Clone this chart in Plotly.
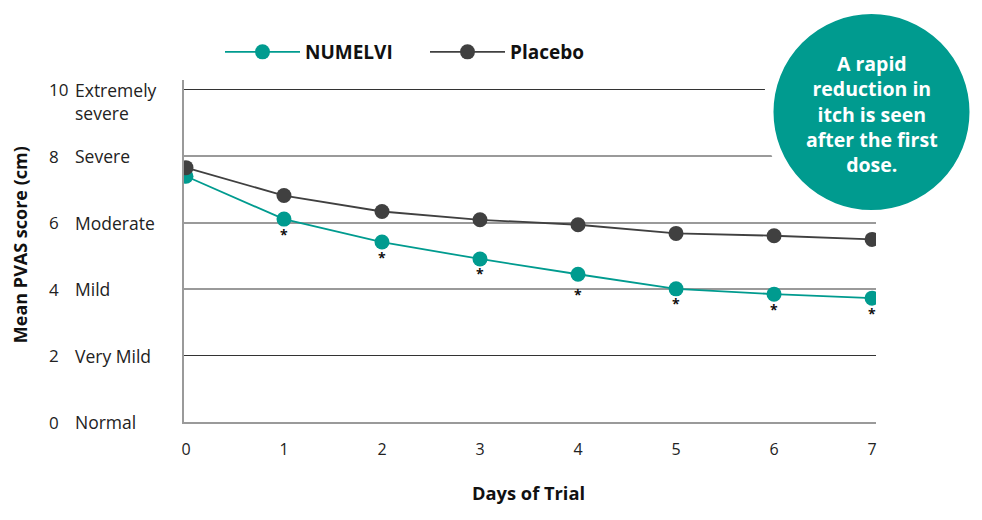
import plotly.graph_objects as go

days = [0, 1, 2, 3, 4, 5, 6, 7]
numelvi = [7.40, 6.11, 5.42, 4.91, 4.45, 4.01, 3.85, 3.73]
placebo = [7.66, 6.82, 6.34, 6.09, 5.94, 5.68, 5.61, 5.50]
sig_days = [1, 2, 3, 4, 5, 6, 7]
y_tick_vals = [10, 8, 6, 4, 2, 0]
y_tick_nums = ["10", "8", "6", "4", "2", "0"]
y_tick_desc = ["Extremely<br>severe", "Severe", "Moderate", "Mild", "Very Mild", "Normal"]
dark_grid = [10, 2]
light_grid = [8, 6, 4]
callout = "A rapid<br>reduction in<br>itch is seen<br>after the first<br>dose."

TEAL = "#009B8F"
GREY = "#404040"
FONT = "Open Sans"

# page has an 8px body margin: figure drawn at (8,8)
PW, PL, PB = 692.0, 184.0, 421.7   # plot width, left px, bottom px (page coords)
PH = 341.7

def px_x(p):
    return (p - PL) / PW

def px_y(p):
    return (PB - p) / PH

fig = go.Figure()
fig.add_trace(go.Scatter(x=days, y=numelvi, name="<b>NUMELVI</b>", mode="lines+markers",
                         line=dict(color=TEAL, width=1.8),
                         marker=dict(color=TEAL, size=15)))
fig.add_trace(go.Scatter(x=days, y=placebo, name="<b>Placebo</b>", mode="lines+markers",
                         line=dict(color=GREY, width=1.8),
                         marker=dict(color=GREY, size=15)))

ann = []
for d in sig_days:
    v = numelvi[days.index(d)]
    ann.append(dict(x=d, y=v, xref="x", yref="y", text="<b>*</b>", showarrow=False,
                    yshift=-20 if d == 4 else -15, font=dict(size=14, color="#111", family=FONT)))

for v, n, t in zip(y_tick_vals, y_tick_nums, y_tick_desc):
    two = "<br>" in t
    ann.append(dict(x=px_x(47), y=v, xref="paper", yref="y", text=n, showarrow=False,
                    xanchor="left", yanchor="middle", font=dict(size=17, color="#222", family=FONT)))
    ann.append(dict(x=px_x(73), y=v, xref="paper", yref="y", text=t, showarrow=False,
                    xanchor="left", align="left", yanchor="top" if two else "middle",
                    yshift=14 if two else 0, font=dict(size=17.5, color="#222", family=FONT)))

ann.append(dict(x=px_x(20), y=px_y(245), xref="paper", yref="paper", xanchor="center", yanchor="middle",
                text="<b>Mean PVAS score (cm)</b>",
                showarrow=False, textangle=-90, font=dict(size=18, color="#111", family=FONT)))
ann.append(dict(x=px_x(528), y=px_y(492), xref="paper", yref="paper", xanchor="center", yanchor="middle",
                text="<b>Days of Trial</b>",
                showarrow=False, font=dict(size=18.3, color="#111", family=FONT)))

ann.append(dict(x=px_x(871.5), y=px_y(114), xref="paper", yref="paper", xanchor="center",
                yanchor="middle", text="<b>" + callout + "</b>", showarrow=False, align="center",
                font=dict(size=19.5, color="white", family=FONT)))

fig.update_layout(
    width=974, height=512,
    margin=dict(l=176, r=106, t=72, b=98),
    paper_bgcolor="white", plot_bgcolor="white",
    font=dict(family=FONT, color="#111"),
    showlegend=True,
    legend=dict(orientation="h", x=px_x(220), y=px_y(52), xanchor="left", yanchor="middle",
                font=dict(size=19, color="#111", family=FONT), itemwidth=75,
                entrywidth=115, entrywidthmode="pixels", traceorder="normal"),
    xaxis=dict(range=[-0.02, 7.04], tickvals=days, showgrid=False, zeroline=False,
               showline=True, linecolor="#9a9a9a", linewidth=2,
               ticks="", ticklabelstandoff=12, tickfont=dict(size=16, color="#222", family=FONT)),
    yaxis=dict(range=[0, 10.3], tickvals=dark_grid, showticklabels=False, showgrid=True,
               gridcolor="#333333", gridwidth=1, zeroline=False,
               minor=dict(tickvals=light_grid, showgrid=True, gridcolor="#9a9a9a", gridwidth=2, ticks=""),
               showline=True, linecolor="#9a9a9a", linewidth=2, ticks=""),
    annotations=ann,
)

# callout bubble with white halo
fig.add_shape(type="circle", xref="paper", yref="paper", xsizemode="pixel", ysizemode="pixel",
              xanchor=px_x(871.5), yanchor=px_y(112),
              x0=-103.5, x1=103.5, y0=-103.5, y1=103.5,
              fillcolor=TEAL, line=dict(color="white", width=11), layer="above")

fig.write_html("out.html")
